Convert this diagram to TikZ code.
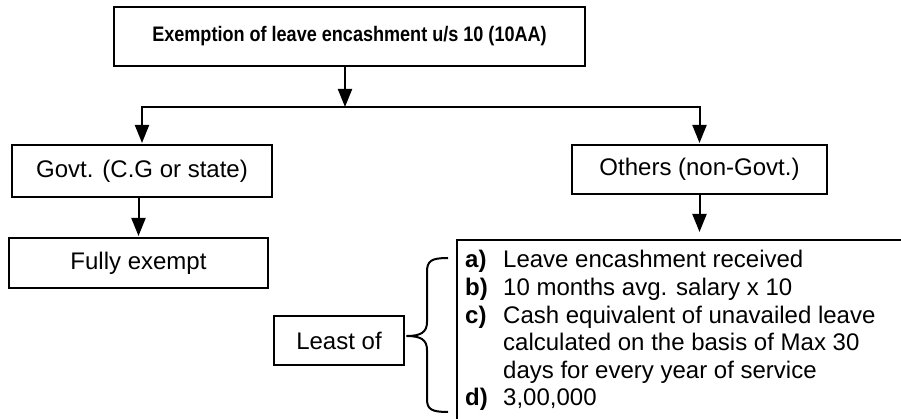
\documentclass[tikz,border=0pt]{standalone}
\usepackage{fontspec}
\setmainfont{Liberation Sans}
\newfontfamily\headfont[FakeStretch=0.86]{Liberation Sans}
\usetikzlibrary{arrows.meta,calc}
\begin{document}
\begin{tikzpicture}[x=1pt,y=-1pt,
  box/.style={draw, line width=2pt, inner sep=0pt, outer sep=0pt,
    font=\fontsize{24}{28}\selectfont},
  arr/.style={line width=2pt, -{Triangle[length=18pt,width=14pt]}},
  gap/.style={shorten >=2pt},
  bracestyle/.style={line width=2pt, line join=round},
]
\useasboundingbox (0,0) rectangle (901,419);
\clip (0,0) rectangle (901,419);

% boxes
\node[box, minimum width=471pt, minimum height=59pt,
  font=\headfont\fontsize{21}{25}\selectfont\bfseries] (top) at (349.5,36.5)
  {Exemption of leave encashment u/s 10 (10AA)};
\node[box, minimum width=260pt, minimum height=52pt] (govt) at (142,171)
  {Govt. (C.G or state)};
\node[box, minimum width=255pt, minimum height=49pt] (others) at (699.5,169.5)
  {Others (non-Govt.)};
\node[box, minimum width=259pt, minimum height=50pt] (fully) at (138.5,263)
  {Fully exempt};
\node[box, minimum width=130pt, minimum height=49pt] (least) at (339,340.5)
  {Least of};
\node[box, anchor=north west, minimum width=500pt, minimum height=220pt]
  (list) at (457,240) {};

% items inside the open box
\node[anchor=base west, inner sep=0pt, font=\fontsize{24}{27.6}\selectfont]
  (items) at ($(list.north west)+(8,28)$)
  {\parbox[t]{430pt}{%
    \makebox[38pt][l]{\bfseries a)}Leave encashment received\\
    \makebox[38pt][l]{\bfseries b)}10 months avg. salary x 10\\
    \makebox[38pt][l]{\bfseries c)}Cash equivalent of unavailed leave\\
    \hspace*{38pt}calculated on the basis of Max 30\\
    \hspace*{38pt}days for every year of service\\
    \makebox[38pt][l]{\bfseries d)}3,00,000}};

% connectors
\coordinate (j) at (345,107);
\draw[arr] (top.south -| j) -- (j);
\draw[arr, gap] (j) -| (govt.north);
\draw[arr, gap] (j) -| (others.north);
\draw[arr, gap] (govt.south -| fully.north) -- (fully.north);
\draw[arr, shorten >=8pt] (others.south) -- (others.south |- list.north);

% brace grouping the items
\coordinate (brtop) at ($(list.north west)+(-9,18)$);
\begin{scope}[shift={(brtop)}]
  \draw[bracestyle] (0,0) .. controls (-17,0) and (-21,3) .. (-21,14)
    -- (-21,64) .. controls (-21,74) and (-27,78) .. (-41,78)
    .. controls (-27,78) and (-21,82) .. (-21,92)
    -- (-21,141) .. controls (-21,151) and (-17,154) .. (0,154);
\end{scope}
\end{tikzpicture}
\end{document}
